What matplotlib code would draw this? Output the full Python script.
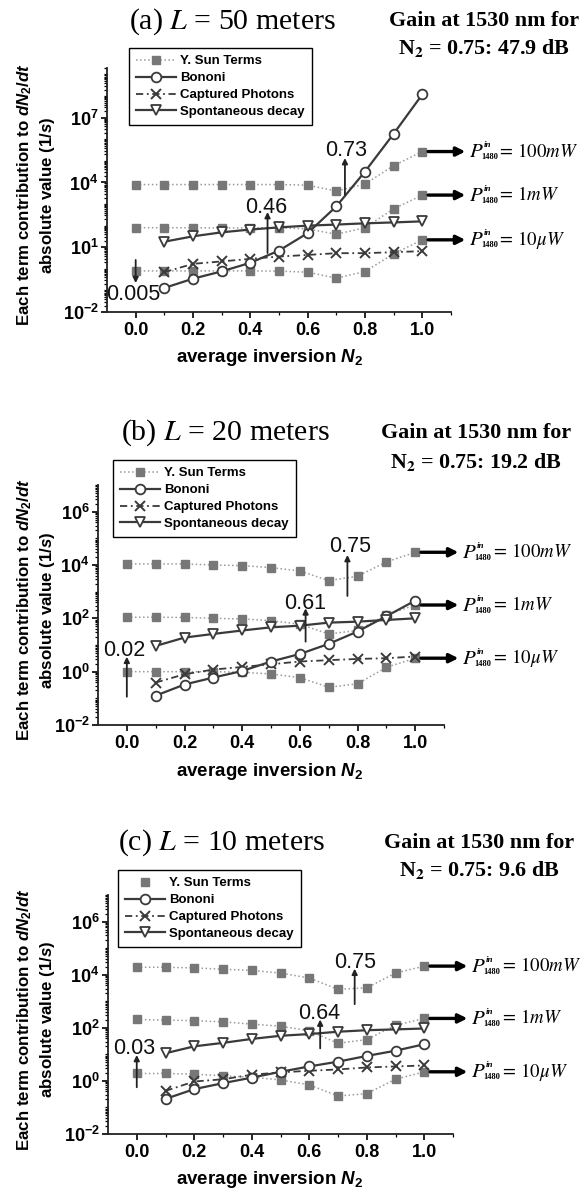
import matplotlib
matplotlib.use('Agg')
import matplotlib.pyplot as plt
import numpy as np
from matplotlib.ticker import FixedLocator, LogLocator, FuncFormatter, NullFormatter
from matplotlib.lines import Line2D

plt.rcParams['font.family'] = 'Liberation Sans'
plt.rcParams['mathtext.fontset'] = 'custom'
plt.rcParams['mathtext.rm'] = 'Liberation Sans:bold'
plt.rcParams['mathtext.it'] = 'Liberation Sans:italic:bold'
plt.rcParams['mathtext.bf'] = 'Liberation Sans:bold'

# ---------------- data ----------------
n2_all = [0.0, 0.1, 0.2, 0.3, 0.4, 0.5, 0.6, 0.7, 0.8, 0.9, 1.0]
n2_mod = [0.1, 0.2, 0.3, 0.4, 0.5, 0.6, 0.7, 0.8, 0.9, 1.0]

a_sun_100mW = [8000, 8000, 8000, 8000, 8000, 8000, 7500, 4000, 8500, 6e4, 2.7e5]
a_sun_1mW = [80, 80, 80, 78, 78, 80, 70, 40, 80, 600, 2600]
a_sun_10uW = [0.8, 0.8, 0.8, 0.8, 0.8, 0.78, 0.7, 0.37, 0.75, 5, 22]
a_bononi = [0.13, 0.35, 0.76, 1.9, 7, 45, 780, 3.2e4, 1.8e6, 1.2e8]
a_captured = [0.7, 1.7, 2.2, 2.9, 3.7, 4.4, 5.3, 5.3, 5.9, 6.6]
a_spont = [18, 32, 49, 66, 83, 100, 112, 128, 141, 158]

b_sun_100mW = [1.1e4, 1.1e4, 1.1e4, 1e4, 9.5e3, 8e3, 6e3, 2.6e3, 3.8e3, 1.3e4, 3e4]
b_sun_1mW = [110, 110, 108, 100, 95, 82, 60, 26, 35, 135, 316]
b_sun_10uW = [1.0, 1.0, 1.0, 1.0, 0.95, 0.82, 0.6, 0.26, 0.35, 1.45, 3.2]
b_bononi = [0.126, 0.33, 0.6, 1.06, 2.4, 4.6, 11, 32, 120, 460]
b_captured = [0.39, 0.8, 1.2, 1.5, 1.9, 2.4, 2.7, 3.0, 3.2, 3.7]
b_spont = [9.2, 19, 26, 35, 46, 53, 69, 75, 87, 100]

c_sun_100mW = [1.9e4, 1.9e4, 1.8e4, 1.6e4, 1.45e4, 1.15e4, 7.5e3, 2.8e3, 3.2e3, 1.15e4, 2.1e4]
c_sun_1mW = [205, 195, 185, 168, 137, 115, 77, 26, 36, 125, 225]
c_sun_10uW = [1.9, 1.9, 1.8, 1.55, 1.37, 1.09, 0.71, 0.27, 0.33, 1.15, 2.2]
c_bononi = [0.21, 0.49, 0.82, 1.33, 2.2, 3.5, 5.3, 8.7, 13.7, 24]
c_captured = [0.42, 0.95, 1.15, 1.7, 2.1, 2.4, 2.7, 3.2, 3.5, 3.8]
c_spont = [11, 20, 27, 38, 50, 58, 71, 81, 87, 94]

panel_titles = [r'(a) $L$ = 50 meters', r'(b) $L$ = 20 meters', r'(c) $L$ = 10 meters']
gain_lines = [r'N$_{\mathbf{2}}$ = 0.75: 47.9 dB', r'N$_{\mathbf{2}}$ = 0.75: 19.2 dB',
              r'N$_{\mathbf{2}}$ = 0.75: 9.6 dB']
power_values = [r'${=}\,100mW$', r'${=}\,1mW$', r'${=}\,10\mu W$']
legend_labels = ['Y. Sun Terms', 'Bononi', 'Captured Photons', 'Spontaneous decay']

# crossover annotations: (label, N2 of arrow)
a_marks = [('0.005', 0.0), ('0.46', 0.46), ('0.73', 0.73)]
b_marks = [('0.02', 0.0), ('0.61', 0.62), ('0.75', 0.765)]
c_marks = [('0.03', 0.0), ('0.64', 0.638), ('0.75', 0.758)]

# ---------------- layout ----------------
W, H = 587, 1195
fig = plt.figure(figsize=(W / 100, H / 100), dpi=100)

def fr(l, t, r, b):
    return [l / W, 1 - b / H, (r - l) / W, (b - t) / H]

panels = [
    dict(rect=fr(107, 68, 451, 312), ylim=(1e-2, 2e9), majors=[1e-2, 1e1, 1e4, 1e7],
         sun=[a_sun_100mW, a_sun_1mW, a_sun_10uW], bon=a_bononi, cap=a_captured, spo=a_spont,
         marks=a_marks,
         arrows=[(0.41, -0.66, -0.01, -1.2), (0.73, 2.63, 0.455, 2.86), (3.42, 5.13, 0.735, 5.5)],
         title_y=22, gain_y=(21, 48), title_x=232, gain_x=484, leg=(129, 48), xlab_y=357, ysun_leg_line=True),
    dict(rect=fr(98, 485, 444, 725), ylim=(1e-2, 1e7), majors=[1e-2, 1e0, 1e2, 1e4, 1e6],
         sun=[b_sun_100mW, b_sun_1mW, b_sun_10uW], bon=b_bononi, cap=b_captured, spo=b_spont,
         marks=b_marks,
         arrows=[(-0.94, 0.56, -0.01, 0.81), (1.125, 2.375, 0.62, 2.56), (2.84, 4.375, 0.775, 4.69)],
         title_y=433, gain_y=(433, 462), title_x=225, gain_x=476, leg=(113, 460), xlab_y=772, ysun_leg_line=True),
    dict(rect=fr(108, 895, 453, 1134), ylim=(1e-2, 1e7), majors=[1e-2, 1e0, 1e2, 1e4, 1e6],
         sun=[c_sun_100mW, c_sun_1mW, c_sun_10uW], bon=c_bononi, cap=c_captured, spo=c_spont,
         marks=c_marks,
         arrows=[(-0.24, 0.975, -0.01, 1.22), (1.225, 2.31, 0.634, 2.54), (2.89, 4.225, 0.758, 4.475)],
         title_y=843, gain_y=(843, 870), title_x=221, gain_x=479, leg=(118, 870), xlab_y=1180, ysun_leg_line=False),
]

SUN_M = '#777777'
SUN_L = '#9a9a9a'
DARK = '#3a3a3a'

for p in panels:
    ax = fig.add_axes(p['rect'])
    ax.set_yscale('log')
    ax.set_xlim(-0.1, 1.1)
    ax.set_ylim(*p['ylim'])
    for s in ('top', 'right'):
        ax.spines[s].set_visible(False)
    for s in ('left', 'bottom'):
        ax.spines[s].set_linewidth(1.3)
        ax.spines[s].set_color('#222222')

    for ser in p['sun']:
        ax.plot(n2_all, ser, linestyle=':', color=SUN_L, lw=1.1, marker='s', ms=6,
                mfc=SUN_M, mec=SUN_M, zorder=2)
    ax.plot(n2_mod, p['bon'], '-', color=DARK, lw=1.6, marker='o', ms=7, mfc='white',
            mec=DARK, mew=1.3, zorder=4)
    ax.plot(n2_mod, p['cap'], linestyle=(0, (4, 2, 1, 2)), color=DARK, lw=1.3, marker='x', ms=7,
            mec=DARK, mew=1.4, zorder=3)
    ax.plot(n2_mod, p['spo'], '-', color=DARK, lw=1.6, marker='v', ms=7.5, mfc='white',
            mec=DARK, mew=1.3, zorder=4)

    # ticks
    ax.xaxis.set_major_locator(FixedLocator([0.0, 0.2, 0.4, 0.6, 0.8, 1.0]))
    ax.xaxis.set_minor_locator(FixedLocator([0.1, 0.3, 0.5, 0.7, 0.9, 1.1]))
    ax.xaxis.set_major_formatter(FuncFormatter(lambda v, q: '%.1f' % v))
    ax.yaxis.set_major_locator(FixedLocator(p['majors']))
    ax.yaxis.set_minor_locator(LogLocator(base=10, subs=np.arange(1, 10), numticks=40))
    ax.yaxis.set_minor_formatter(NullFormatter())
    ax.yaxis.set_major_formatter(FuncFormatter(lambda v, q: r'$\mathbf{10^{%d}}$' % round(np.log10(v))))
    ax.tick_params(axis='both', which='major', direction='out', length=4, width=1.2, labelsize=13)
    ax.tick_params(axis='both', which='minor', direction='out', length=2.5, width=0.9)
    for lab in ax.get_xticklabels():
        lab.set_fontweight('bold')
    ax.tick_params(axis='x', which='major', pad=3)
    ax.tick_params(axis='y', which='major', pad=2)

    # crossover arrows
    for (lab, xv), (yf, yt, tx, ty) in zip(p['marks'], p['arrows']):
        ax.annotate('', xy=(xv, 10 ** yt), xytext=(xv, 10 ** yf),
                    arrowprops=dict(arrowstyle='-|>', lw=1.3, color='#222222', mutation_scale=8,
                                    shrinkA=0, shrinkB=0), annotation_clip=False, zorder=6)
        ax.text(tx, 10 ** ty, lab, fontsize=15.5, ha='center', va='center', color='#111111', zorder=7)

    # power arrows on the right with P^in_1480 labels
    for ser, pval in zip(p['sun'], power_values):
        yv = ser[-1]
        ax.annotate('', xy=(1.15, yv), xytext=(1.02, yv),
                    arrowprops=dict(arrowstyle='-|>', lw=2.4, color='black', mutation_scale=13,
                                    shrinkA=0, shrinkB=0), annotation_clip=False)
        ax.text(1.163, yv, r'$P$', fontsize=15, ha='left', va='center', math_fontfamily='stix',
                clip_on=False)
        ax.annotate('in', xy=(1.163, yv), xytext=(10.5, 4.6), textcoords='offset points',
                    fontsize=6.5, fontstyle='italic', fontweight='bold', family='Liberation Serif',
                    ha='left', va='center', annotation_clip=False)
        ax.annotate('1480', xy=(1.163, yv), xytext=(8.6, -4.0), textcoords='offset points',
                    fontsize=6, fontweight='bold', family='Liberation Serif',
                    ha='left', va='center', annotation_clip=False)
        ax.text(1.262, yv, pval, fontsize=13.5, ha='left', va='center', math_fontfamily='stix',
                clip_on=False)

    # legend
    sun_handle = Line2D([], [], linestyle=':' if p['ysun_leg_line'] else 'none', color=SUN_L, lw=1.1,
                        marker='s', ms=6, mfc=SUN_M, mec=SUN_M)
    bon_handle = Line2D([], [], linestyle='-', color=DARK, lw=1.6, marker='o', ms=7, mfc='white',
                        mec=DARK, mew=1.3)
    cap_handle = Line2D([], [], linestyle=(0, (4, 2, 1, 2)), color=DARK, lw=1.3, marker='x', ms=7,
                        mec=DARK, mew=1.4)
    spo_handle = Line2D([], [], linestyle='-', color=DARK, lw=1.6, marker='v', ms=7.5, mfc='white',
                        mec=DARK, mew=1.3)
    lx, ly = p['leg']
    leg = fig.legend([sun_handle, bon_handle, cap_handle, spo_handle], legend_labels,
                     loc='upper left', bbox_to_anchor=(lx / W, 1 - ly / H),
                     prop=dict(family='Liberation Sans', weight='bold', size=9.5),
                     frameon=True, fancybox=False, edgecolor='black', framealpha=1,
                     handlelength=3.0, handletextpad=0.3, labelspacing=0.35, borderpad=0.55,
                     borderaxespad=0)
    leg.get_frame().set_linewidth(1.0)

    fig.text(36 / W, p['rect'][1] + p['rect'][3] / 2 - 0.004,
             'Each term contribution to $dN_2/dt$\nabsolute value $(1/s)$',
             rotation=90, ha='center', va='center', multialignment='center',
             fontsize=12.2, fontweight='bold', linespacing=1.3)
    fig.text(0.46, 1 - p['xlab_y'] / H, 'average inversion $N_2$', ha='center', va='center',
             fontsize=13.5, fontweight='bold')

for p, ttl, gl in zip(panels, panel_titles, gain_lines):
    fig.text(p['title_x'] / W, 1 - p['title_y'] / H, ttl, fontsize=21.5, ha='center', va='center',
             family='Liberation Serif', math_fontfamily='stix')
    fig.text(p['gain_x'] / W, 1 - p['gain_y'][0] / H, 'Gain at 1530 nm for', fontsize=15.8,
             ha='center', va='center', family='Liberation Serif', fontweight='bold')
    fig.text(p['gain_x'] / W, 1 - p['gain_y'][1] / H, gl, fontsize=15.8,
             ha='center', va='center', family='Liberation Serif', fontweight='bold',
             math_fontfamily='stix')

fig.savefig('out.png', dpi=100)
